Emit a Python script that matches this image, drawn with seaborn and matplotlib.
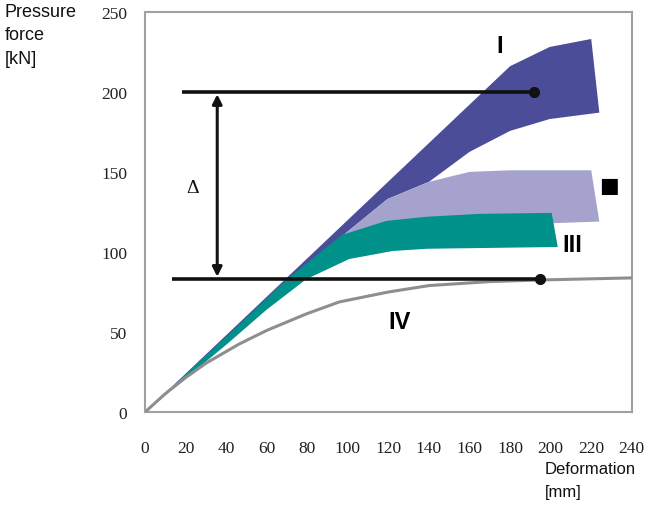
import matplotlib
matplotlib.use("Agg")
import matplotlib.pyplot as plt
import seaborn as sns
import pandas as pd

# ---- data -------------------------------------------------------------
x_ticks = [0, 20, 40, 60, 80, 100, 120, 140, 160, 180, 200, 220, 240]
y_ticks = [0, 50, 100, 150, 200, 250]

# band I (upper / lower boundary)
band1_up_x = [0, 180, 199.5, 220]
band1_up_y = [0, 216, 228, 233]
band1_lo_x = [0, 76, 119.5, 140, 160, 180, 199.5, 224]
band1_lo_y = [0, 88, 133, 143.8, 162.5, 175.6, 183, 187]

# band II
band2_up_x = [0, 76, 119.5, 140, 160, 180, 220]
band2_up_y = [0, 88, 133, 143.8, 150, 151, 151]
band2_lo_x = [0, 40, 70, 100, 140, 180, 224]
band2_lo_y = [0, 45, 80, 106, 112, 117, 119]

# band III
band3_up_x = [0, 40, 70, 97, 119, 139, 165, 200.5]
band3_up_y = [0, 47, 83, 110.6, 119.4, 122, 123.8, 124.4]
band3_lo_x = [0, 40, 60, 79.5, 100.7, 122, 139, 203.5]
band3_lo_y = [0, 42, 64, 83, 95.6, 100.6, 102, 103.1]

# curve IV
curve4_x = [0, 10, 20, 30, 46.4, 60, 79.5, 95.8, 120, 140, 170, 194.6, 240]
curve4_y = [0, 11.5, 21.5, 30.5, 42.5, 51, 61.3, 68.8, 75, 79, 81.5, 82.5, 83.8]

# reference levels
level_hi = 200
level_lo = 83
level_hi_x = [18.3, 192]
level_lo_x = [13.5, 194.6]
delta_x = 35.6

# ---- figure -----------------------------------------------------------
sns.set_style("white")
plt.rcParams["font.family"] = ["Liberation Sans", "DejaVu Sans"]

fig = plt.figure(figsize=(6.46, 5.10), dpi=100)
ax = fig.add_axes([0.2245, 0.19, 0.7535, 0.785])

c_band1 = "#4b4d98"
c_band2 = "#a5a3cd"
c_band3 = "#00918a"
c_curve4 = "#8e8e8e"


def band(ax, ux, uy, lx, ly, color):
    px = list(ux) + list(lx[::-1])
    py = list(uy) + list(ly[::-1])
    ax.fill(px, py, color=color, lw=0, zorder=2)


band(ax, band1_up_x, band1_up_y, band1_lo_x, band1_lo_y, c_band1)
band(ax, band2_up_x, band2_up_y, band2_lo_x, band2_lo_y, c_band2)
band(ax, band3_up_x, band3_up_y, band3_lo_x, band3_lo_y, c_band3)

df4 = pd.DataFrame({"x": curve4_x, "y": curve4_y})
sns.lineplot(data=df4, x="x", y="y", ax=ax, color=c_curve4, lw=2.2,
             sort=False, zorder=3)

# horizontal reference lines with end dots
for xs, lvl in ((level_hi_x, level_hi), (level_lo_x, level_lo)):
    ax.plot(xs, [lvl, lvl], color="#111111", lw=2.6, zorder=4,
            solid_capstyle="butt")
    ax.plot([xs[1]], [lvl], "o", color="#111111", ms=7, zorder=5)

# double-headed delta arrow
ax.annotate("", xy=(delta_x, level_hi - 1.5), xytext=(delta_x, level_lo + 1.5),
            arrowprops=dict(arrowstyle="<|-|>", color="#111111", lw=2.2,
                            mutation_scale=14, shrinkA=0, shrinkB=0),
            zorder=5)
ax.text(23.3, 140, "Δ", family="Liberation Serif", fontsize=14,
        ha="center", va="center", color="#111111")

# band labels
lab = dict(fontsize=17, fontweight="bold", ha="center", va="center",
           color="#000000", zorder=6)
ax.text(174.8, 229, "I", **lab)
ax.text(229, 142, "■", family="DejaVu Sans", fontsize=15, ha="center",
        va="center", color="#000000", zorder=6)
ax.text(210.9, 104.4, "III", **lab)
ax.text(125.4, 56.3, "IV", **lab)

# axes styling
ax.set_xlim(0, 240)
ax.set_ylim(0, 250)
ax.set_xticks(x_ticks)
ax.set_yticks(y_ticks)
ax.set_xlabel("")
ax.set_ylabel("")
ax.tick_params(axis="both", length=0, labelsize=12.5, colors="#222222")
ax.tick_params(axis="x", pad=20)
ax.tick_params(axis="y", pad=13)
for t in ax.get_xticklabels() + ax.get_yticklabels():
    t.set_family("Liberation Serif")
for s in ax.spines.values():
    s.set_color("#a0a0a0")
    s.set_linewidth(1.5)
ax.grid(False)

fig.text(5 / 646, 1 - 4 / 510, "Pressure\nforce\n[kN]", ha="left", va="top",
         fontsize=13, linespacing=1.5, color="#111111")
fig.text(545 / 646, 1 - 462 / 510, "Deformation\n[mm]", ha="left", va="top",
         fontsize=12, linespacing=1.65, color="#111111")

fig.savefig("out.png", dpi=100)
